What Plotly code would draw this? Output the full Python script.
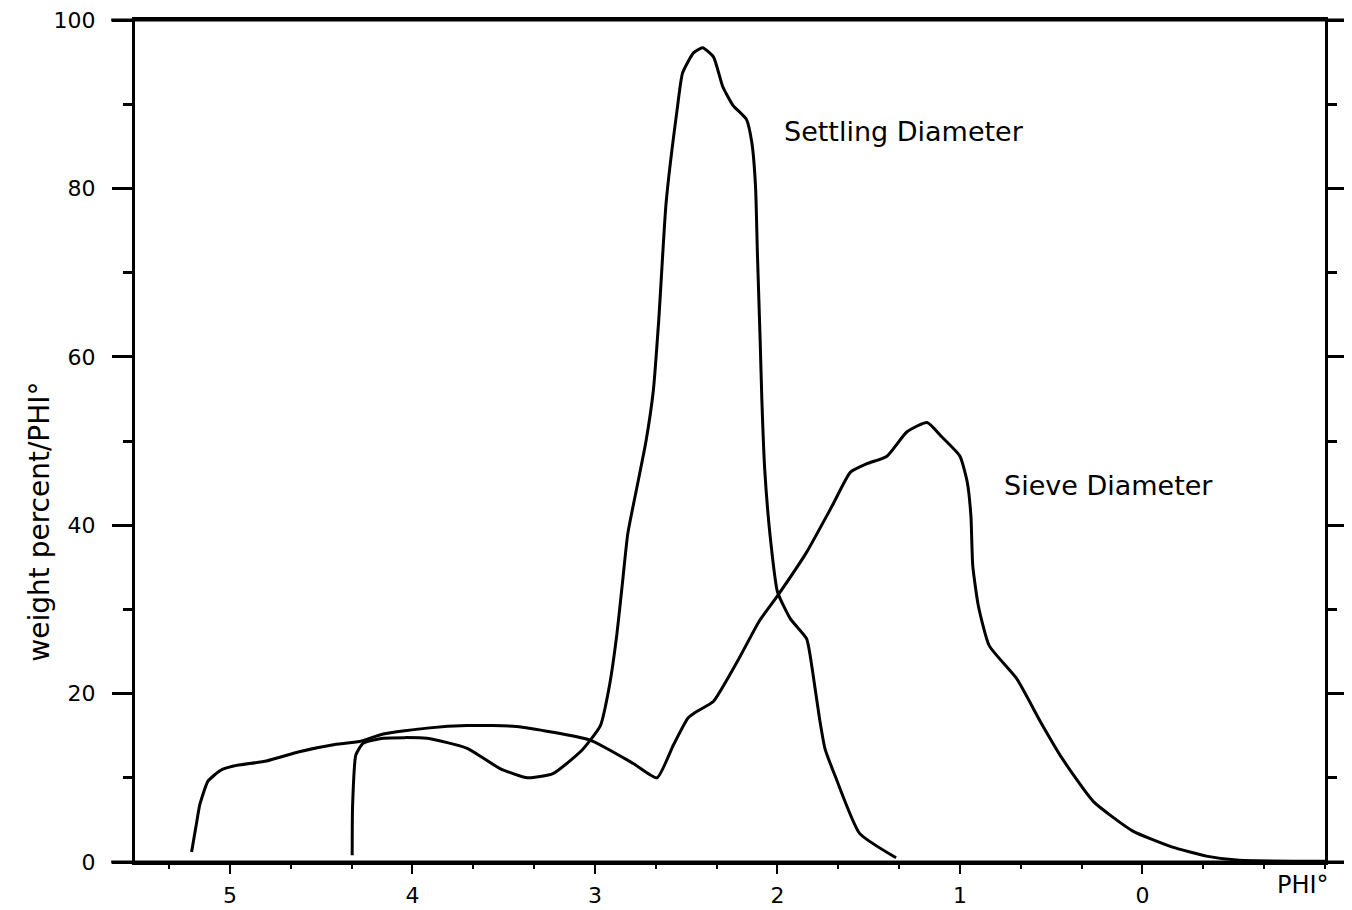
import plotly.graph_objects as go

# ---- data (phi, weight percent / phi) ----
settling_phi = [4.33, 4.328, 4.31, 4.27, 4.16, 3.92, 3.70, 3.52, 3.37, 3.23, 3.07, 2.97,
                2.92, 2.88, 2.85, 2.82, 2.77, 2.72, 2.68, 2.65, 2.61, 2.55, 2.52, 2.46,
                2.41, 2.35, 2.30, 2.245, 2.17, 2.14, 2.12, 2.11, 2.095, 2.085, 2.07, 2.04,
                2.00, 1.93, 1.84, 1.81, 1.77, 1.74, 1.68, 1.55, 1.35]
settling_pct = [0.8, 6.6, 12.7, 14.1, 14.7, 14.7, 13.5, 11.1, 10.0, 10.5, 13.3, 16.2,
                21.0, 27.0, 33.0, 39.0, 44.5, 50.0, 56.0, 64.5, 78.3, 89.3, 93.7, 96.1,
                96.7, 95.6, 92.1, 89.9, 88.2, 85.4, 80.2, 72.4, 62.1, 54.6, 46.7, 38.7,
                32.1, 28.9, 26.5, 23.0, 17.1, 13.5, 10.0, 3.4, 0.5]

sieve_phi = [5.21, 5.18, 5.165, 5.12, 5.05, 4.98, 4.80, 4.62, 4.44, 4.29, 4.16, 3.92,
             3.70, 3.43, 3.03, 2.79, 2.66, 2.57, 2.49, 2.44, 2.35, 2.22, 2.10, 2.00,
             1.84, 1.70, 1.60, 1.51, 1.40, 1.29, 1.18, 1.10, 1.00, 0.96, 0.94, 0.93,
             0.90, 0.84, 0.69, 0.56, 0.44, 0.27, 0.055, -0.16, -0.35, -0.53, -1.0]
sieve_pct = [1.2, 5.0, 6.8, 9.6, 10.9, 11.4, 12.0, 13.1, 13.9, 14.3, 15.2, 15.9,
             16.2, 16.1, 14.5, 11.7, 10.0, 13.9, 17.1, 17.9, 19.1, 23.8, 28.6, 31.6,
             36.8, 42.3, 46.3, 47.3, 48.2, 51.1, 52.2, 50.5, 48.2, 45.1, 41.1, 35.2,
             30.5, 25.7, 21.8, 16.7, 12.3, 7.2, 3.7, 1.8, 0.7, 0.2, 0.1]

x_ticks = [5, 4, 3, 2, 1, 0]
y_ticks = [0, 20, 40, 60, 80, 100]

FONT = "DejaVu Sans"
LW = 3

fig = go.Figure()
fig.add_trace(go.Scatter(x=settling_phi, y=settling_pct, mode="lines",
                         line=dict(color="black", width=LW, shape="spline", smoothing=0.5),
                         name="Settling Diameter", showlegend=False))
fig.add_trace(go.Scatter(x=sieve_phi, y=sieve_pct, mode="lines",
                         line=dict(color="black", width=LW, shape="spline", smoothing=0.5),
                         name="Sieve Diameter", showlegend=False))

# page body adds an 8px offset; the figure is sized to compensate
fig.update_layout(
    width=1344, height=902,
    margin=dict(l=127, r=27, t=12, b=48, autoexpand=False),
    paper_bgcolor="white", plot_bgcolor="white",
    font=dict(family=FONT, size=22, color="black"),
    xaxis=dict(range=[5.52, -1.0], tickvals=x_ticks, ticks="outside", ticklen=9,
               tickwidth=2, tickcolor="black", showline=True, linewidth=LW,
               linecolor="black", mirror=True, showgrid=False, zeroline=False,
               ticklabelstandoff=3, automargin=False, ticklabeloverflow="allow",
               minor=dict(tick0=0, dtick=1/3, ticks="outside", ticklen=4,
                          tickwidth=2, tickcolor="black", showgrid=False)),
    yaxis=dict(range=[0, 100], tickvals=y_ticks, ticks="outside", ticklen=20,
               tickwidth=3, tickcolor="black", showline=True, linewidth=LW,
               linecolor="black", mirror="ticks", showgrid=False, zeroline=False,
               ticklabelstandoff=12, automargin=False, ticklabeloverflow="allow",
               minor=dict(dtick=10, ticks="outside", ticklen=9, tickwidth=3,
                          tickcolor="black", showgrid=False)),
)

# extended frame lines (top and bottom run past the box)
for yy in (0, 1):
    fig.add_shape(type="line", xref="paper", yref="paper", x0=-0.02, x1=1.017,
                  y0=yy, y1=yy, line=dict(color="black", width=LW))

fig.add_annotation(text="weight percent/PHI°", xref="paper", yref="paper",
                   x=-0.08, y=0.404, textangle=-90, showarrow=False,
                   font=dict(family=FONT, size=28), xanchor="center", yanchor="middle")
fig.add_annotation(text="Settling Diameter", x=1.977, y=86.7, showarrow=False,
                   xanchor="left", yanchor="middle", font=dict(family=FONT, size=27))
fig.add_annotation(text="Sieve Diameter", x=0.772, y=44.7, showarrow=False,
                   xanchor="left", yanchor="middle", font=dict(family=FONT, size=27))
fig.add_annotation(text="PHI°", x=-0.88, xref="x", yref="paper", y=-0.027,
                   showarrow=False, xanchor="center", yanchor="middle",
                   font=dict(family=FONT, size=24))

fig.write_html("out.html")
